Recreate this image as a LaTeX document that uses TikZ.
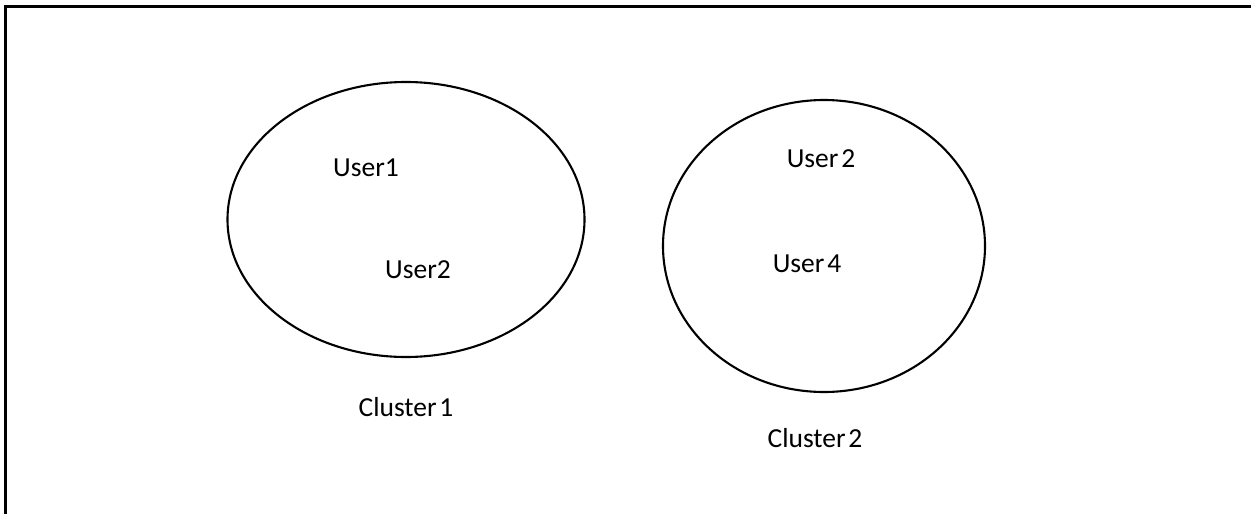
\documentclass[tikz,border=0pt]{standalone}
\usepackage{fontspec}
\setmainfont{Carlito}[WordSpace=0.45]
\begin{document}
\begin{tikzpicture}[x=1pt,y=-1pt,
  outline/.style={draw=black,line width=2.1pt},
  cluster/.style={outline},
  label/.style={font=\fontsize{27.5}{30}\selectfont,text=black,inner sep=0pt}]
  \useasboundingbox (0,0) rectangle (1251,514);
  % frame: only the top and left edges fall inside the page
  \coordinate (fbl) at (5.5,514);
  \coordinate (ftl) at (5.5,6.5);
  \coordinate (ftr) at (1251,6.5);
  \draw[outline] (fbl) -- (ftl) -- (ftr);
  % clusters
  \draw[cluster] (406,219.5) ellipse [x radius=178.5, y radius=137.5];
  \draw[cluster] (824,246) ellipse [x radius=161, y radius=146];
  % members
  \node[label] (u1) at (366,168) {User1};
  \node[label] (u2) at (418,270) {User2};
  \node[label] (v2) at (821,159) {User 2};
  \node[label] (v4) at (807,264) {User 4};
  % captions
  \node[label] (c1) at (406,407) {Cluster 1};
  \node[label] (c2) at (815,438) {Cluster 2};
\end{tikzpicture}
\end{document}
